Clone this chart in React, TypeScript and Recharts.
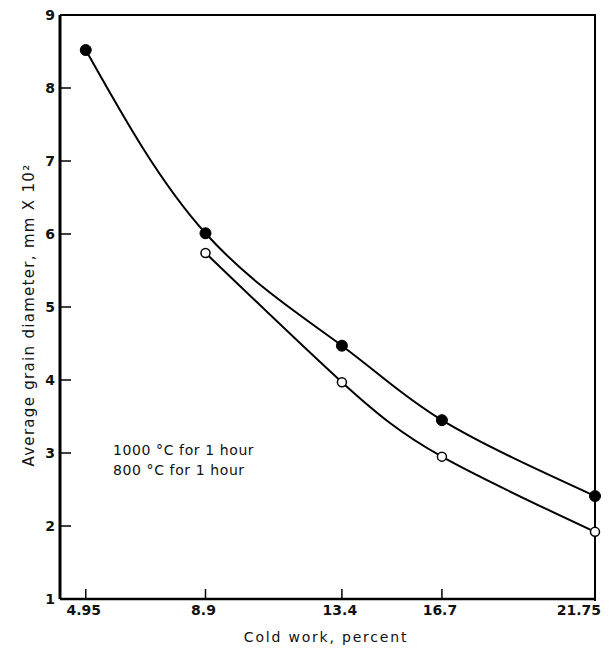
import { LineChart, Line, XAxis, YAxis } from "recharts";

const coldWork = [4.95, 8.9, 13.4, 16.7, 21.75];
const grain1000 = [8.52, 6.01, 4.47, 3.45, 2.41];
const grain800 = [null, 5.74, 3.97, 2.95, 1.92];
const yTicks = [1, 2, 3, 4, 5, 6, 7, 8, 9];

const data = coldWork.map((x, i) => ({
    x,
    hot: grain1000[i],
    cool: grain800[i],
}));

const font = "'DejaVu Sans', sans-serif";
const tickStyle = { fontSize: 14, fontWeight: 700, fill: "#111", fontFamily: font };

// last label sits left of its tick, against the frame
const XTick = (props: any) => {
    const { x, y, payload } = props;
    const last = payload.value === coldWork[coldWork.length - 1];
    return (
        <text
            x={last ? x + 6 : x - 2}
            y={y}
            dy={12}
            textAnchor={last ? "end" : "middle"}
            style={tickStyle}
        >
            {payload.value}
        </text>
    );
};

export default function App() {
    return (
        <div style={{ position: "relative", width: 613, height: 648, background: "#fff" }}>
            <style>{"body{margin:0}"}</style>

            {/* frame top + right */}
            <div
                style={{
                    position: "absolute",
                    left: 60,
                    top: 14,
                    width: 534,
                    height: 585,
                    borderTop: "2px solid #000",
                    borderRight: "2px solid #000",
                    pointerEvents: "none",
                }}
            />

            <LineChart
                width={613}
                height={648}
                data={data}
                margin={{ top: 15, right: 18, bottom: 0, left: 0 }}
                style={{ position: "relative" }}
            >
                <XAxis
                    dataKey="x"
                    type="number"
                    domain={[4.1, 21.75]}
                    ticks={coldWork}
                    height={49}
                    axisLine={{ stroke: "#000", strokeWidth: 2.5 }}
                    tickLine={{ stroke: "#000", strokeWidth: 1.5 }}
                    tickSize={-10}
                    tickMargin={14}
                    tick={<XTick />}
                    interval={0}
                />
                <YAxis
                    type="number"
                    domain={[1, 9]}
                    ticks={yTicks}
                    width={60}
                    axisLine={{ stroke: "#000", strokeWidth: 3 }}
                    tickLine={{ stroke: "#000", strokeWidth: 1.5 }}
                    tickSize={-11}
                    tickMargin={16}
                    tick={tickStyle}
                />

                <Line
                    type="natural"
                    dataKey="hot"
                    stroke="#000"
                    strokeWidth={2}
                    dot={{ r: 5.5, fill: "#000", stroke: "#000", strokeWidth: 1 }}
                    isAnimationActive={false}
                />
                <Line
                    type="natural"
                    dataKey="cool"
                    stroke="#000"
                    strokeWidth={2}
                    dot={{ r: 4.5, fill: "#fff", stroke: "#000", strokeWidth: 1.5 }}
                    isAnimationActive={false}
                />
            </LineChart>

            {/* in-plot notes */}
            <div
                style={{
                    position: "absolute",
                    left: 113,
                    top: 440,
                    fontFamily: font,
                    fontSize: 14,
                    lineHeight: "20px",
                    letterSpacing: 0.6,
                    color: "#111",
                    whiteSpace: "nowrap",
                }}
            >
                <div>1000 °C for 1 hour</div>
                <div>800 °C for 1 hour</div>
            </div>

            {/* y axis title */}
            <div
                style={{
                    position: "absolute",
                    left: 29,
                    top: 315,
                    transform: "translate(-50%, -50%) rotate(-90deg)",
                    fontFamily: font,
                    fontSize: 15,
                    letterSpacing: 1.3,
                    color: "#111",
                    whiteSpace: "nowrap",
                }}
            >
                Average grain diameter, mm X 10²
            </div>

            {/* x axis title */}
            <div
                style={{
                    position: "absolute",
                    left: 326,
                    top: 637,
                    transform: "translate(-50%, -50%)",
                    fontFamily: font,
                    fontSize: 14,
                    letterSpacing: 1.8,
                    color: "#111",
                    whiteSpace: "nowrap",
                }}
            >
                Cold work, percent
            </div>
        </div>
    );
}
